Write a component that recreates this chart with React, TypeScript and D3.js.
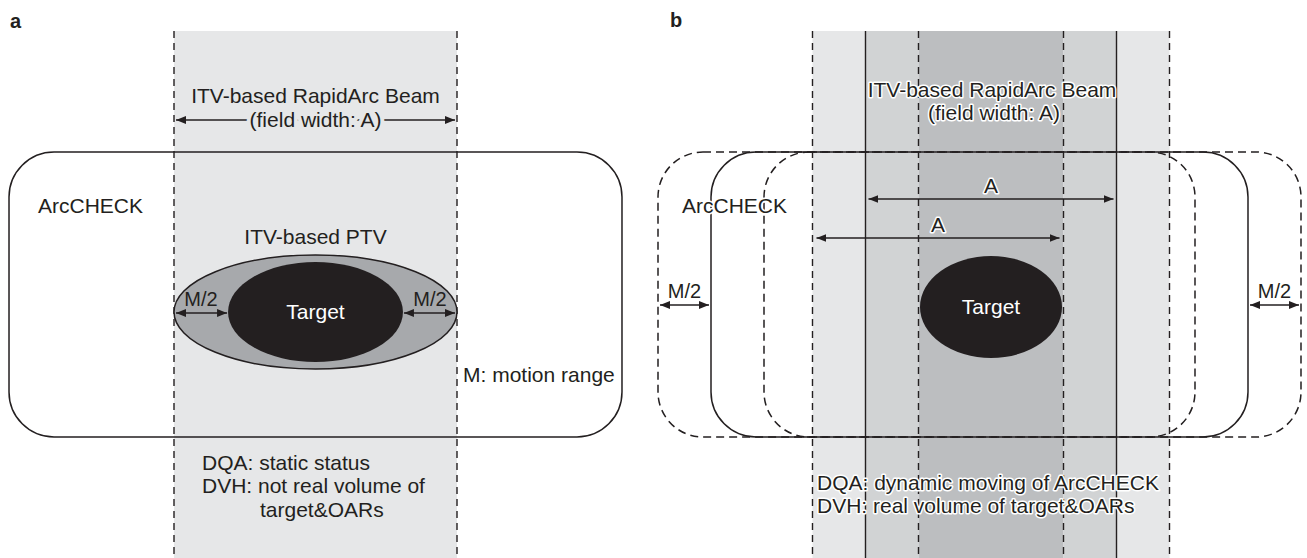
import * as d3 from 'd3';

// ---- diagram content ----
const panelLabels = ['a', 'b'];
const beamTitle = ['ITV-based RapidArc Beam', '(field width: A)'];
const bottomTextA = ['DQA: static status', 'DVH: not real volume of', 'target&OARs'];
const bottomTextB = ['DQA: dynamic moving of ArcCHECK', 'DVH: real volume of target&OARs'];

// panel b: beam / ArcCHECK positions in units of M/2
const beamShiftsB = [-1, 0, 1];
const arcShiftsB = [-1, 0, 1];
// fill by number of overlapping beams
const overlapShades = ['#ffffff', '#e6e7e8', '#d1d3d4', '#bcbec0'];

const INK = '#231f20';
const FONT = '"Liberation Sans", Arial, Helvetica, sans-serif';
const W = 1307;
const H = 558;

// panel a: x in units of half field width (A/2)
const xa = d3.scaleLinear().domain([-1, 1]).range([174, 457]);
const halfMotionA = 0.382; // M/2 relative to A/2
const arcHalfA = 2.166;

// panel b: x in units of M/2
const xb = d3.scaleLinear().domain([0, 1]).range([991, 1044]);
const beamHalfB = 2.368;
const arcCenterB = -0.217;
const arcHalfB = 5.066;

const TOP = 31;
const RECT_Y = 152;
const RECT_H = 285;

function Arrow({ x1, x2, y }: { x1: number; x2: number; y: number }) {
  return (
    <line x1={x1} x2={x2} y1={y} y2={y} stroke={INK} strokeWidth={1.7}
      markerStart="url(#ah)" markerEnd="url(#ah)" />
  );
}

function Label(props: any) {
  const { halo, haloWidth, children, ...rest } = props;
  return (
    <text fontFamily={FONT} fontSize={21} fill={INK}
      stroke={halo || 'none'} strokeWidth={halo ? (haloWidth || 3) : 0} paintOrder="stroke"
      strokeLinejoin="round" {...rest}>
      {children}
    </text>
  );
}

function PanelA() {
  const cx = xa(0);
  const ptvRx = xa(1) - cx;
  const tgtRx = xa(1 - halfMotionA) - cx;
  const cy = 312;
  return (
    <g>
      <rect x={xa(-1)} y={TOP} width={xa(1) - xa(-1)} height={H - TOP} fill={overlapShades[1]} />
      {[-1, 1].map(s => (
        <line key={s} x1={xa(s)} x2={xa(s)} y1={TOP} y2={H} stroke={INK}
          strokeWidth={1.4} strokeDasharray="7 5" />
      ))}
      <Label x={cx} y={103} textAnchor="middle">{beamTitle[0]}</Label>
      <Arrow x1={xa(-1) + 2} x2={xa(1) - 2} y={120} />
      <Label x={cx} y={127} textAnchor="middle" halo={overlapShades[1]} haloWidth={8}>{beamTitle[1]}</Label>

      <rect x={xa(-arcHalfA)} y={RECT_Y} width={xa(arcHalfA) - xa(-arcHalfA)} height={RECT_H}
        rx={45} ry={45} fill="none" stroke={INK} strokeWidth={1.5} />
      <Label x={38} y={213}>ArcCHECK</Label>
      <Label x={cx} y={244} textAnchor="middle">ITV-based PTV</Label>

      <ellipse cx={cx} cy={cy} rx={ptvRx} ry={57} fill="#a7a9ac" stroke={INK} strokeWidth={1.5} />
      <ellipse cx={cx} cy={cy} rx={tgtRx} ry={50} fill={INK} />
      <Label x={cx} y={319} textAnchor="middle" fill="#ffffff">Target</Label>

      <Arrow x1={xa(-1) + 2} x2={xa(-1 + halfMotionA) - 1} y={313} />
      <Arrow x1={xa(1 - halfMotionA) + 1} x2={xa(1) - 2} y={313} />
      <Label x={xa(-1 + halfMotionA / 2)} y={306} fontSize={20} textAnchor="middle">M/2</Label>
      <Label x={xa(1 - halfMotionA / 2)} y={306} fontSize={20} textAnchor="middle">M/2</Label>

      <Label x={463} y={382}>M: motion range</Label>

      <Label x={202} y={470}>{bottomTextA[0]}</Label>
      <Label x={202} y={493}>{bottomTextA[1]}</Label>
      <Label x={260} y={517}>{bottomTextA[2]}</Label>
    </g>
  );
}

function PanelB() {
  // bands from overlapping beams
  const edges = Array.from(new Set(beamShiftsB.flatMap(s => [s - beamHalfB, s + beamHalfB]))).sort((a, b) => a - b);
  const bands = d3.pairs(edges).map(([l, r]) => {
    const mid = (l + r) / 2;
    const n = beamShiftsB.filter(s => Math.abs(mid - s) < beamHalfB).length;
    return { l, r, n };
  });
  const cy = 307;
  const aTop = 199;
  const aLow = 238;
  return (
    <g>
      {bands.map((b, i) => (
        <rect key={i} x={xb(b.l)} y={TOP} width={xb(b.r) - xb(b.l)} height={H - TOP}
          fill={overlapShades[b.n]} />
      ))}
      {beamShiftsB.flatMap(s => [s - beamHalfB, s + beamHalfB].map(e => (
        <line key={`${s}-${e}`} x1={xb(e)} x2={xb(e)} y1={TOP} y2={H} stroke={INK}
          strokeWidth={1.4} strokeDasharray={s === 0 ? undefined : '7 5'} />
      )))}

      {arcShiftsB.map(s => (
        <rect key={s} x={xb(arcCenterB + s - arcHalfB)} y={RECT_Y}
          width={xb(arcHalfB) - xb(-arcHalfB)} height={RECT_H} rx={45} ry={45}
          fill="none" stroke={INK} strokeWidth={1.5} strokeDasharray={s === 0 ? undefined : '8 5'} />
      ))}

      <Label x={xb(0) + 1} y={97} textAnchor="middle" halo="#ffffff">{beamTitle[0]}</Label>
      <Label x={xb(0) + 3} y={120} textAnchor="middle" halo="#ffffff">{beamTitle[1]}</Label>
      <Label x={682} y={213} halo="#ffffff">ArcCHECK</Label>

      <Arrow x1={xb(0 - beamHalfB) + 3} x2={xb(0 + beamHalfB) - 3} y={aTop} />
      <Label x={xb(0)} y={aTop - 6} textAnchor="middle" halo="#ffffff">A</Label>
      <Arrow x1={xb(-1 - beamHalfB) + 4} x2={xb(-1 + beamHalfB) - 4} y={aLow} />
      <Label x={xb(-1)} y={aLow - 6} textAnchor="middle" halo="#ffffff">A</Label>

      <ellipse cx={xb(0)} cy={cy} rx={71} ry={51} fill={INK} />
      <Label x={xb(0)} y={314} textAnchor="middle" fill="#ffffff">Target</Label>

      <Arrow x1={xb(arcCenterB - 1 - arcHalfB) + 2} x2={xb(arcCenterB - arcHalfB) - 2} y={305} />
      <Arrow x1={xb(arcCenterB + arcHalfB) + 2} x2={xb(arcCenterB + 1 + arcHalfB) - 2} y={305} />
      <Label x={xb(arcCenterB - 0.5 - arcHalfB)} y={298} fontSize={20} textAnchor="middle">M/2</Label>
      <Label x={xb(arcCenterB + 0.5 + arcHalfB)} y={298} fontSize={20} textAnchor="middle">M/2</Label>

      <Label x={817} y={490} halo="#ffffff">{bottomTextB[0]}</Label>
      <Label x={817} y={513} halo="#ffffff">{bottomTextB[1]}</Label>
    </g>
  );
}

export default function App() {
  return (
    <svg width={W} height={H} viewBox={`0 0 ${W} ${H}`}
      style={{ position: 'absolute', left: 0, top: 0, background: '#ffffff' }}>
      <defs>
        <marker id="ah" viewBox="0 0 10 8" refX={10} refY={4} markerWidth={10} markerHeight={8}
          markerUnits="userSpaceOnUse" orient="auto-start-reverse">
          <path d="M0,0 L10,4 L0,8 Z" fill={INK} />
        </marker>
      </defs>
      <rect width={W} height={H} fill="#ffffff" />
      <PanelA />
      <PanelB />
      <text x={10} y={28} fontFamily={FONT} fontWeight="bold" fontSize={20} fill={INK}>{panelLabels[0]}</text>
      <text x={670} y={27} fontFamily={FONT} fontWeight="bold" fontSize={20} fill={INK}>{panelLabels[1]}</text>
    </svg>
  );
}
